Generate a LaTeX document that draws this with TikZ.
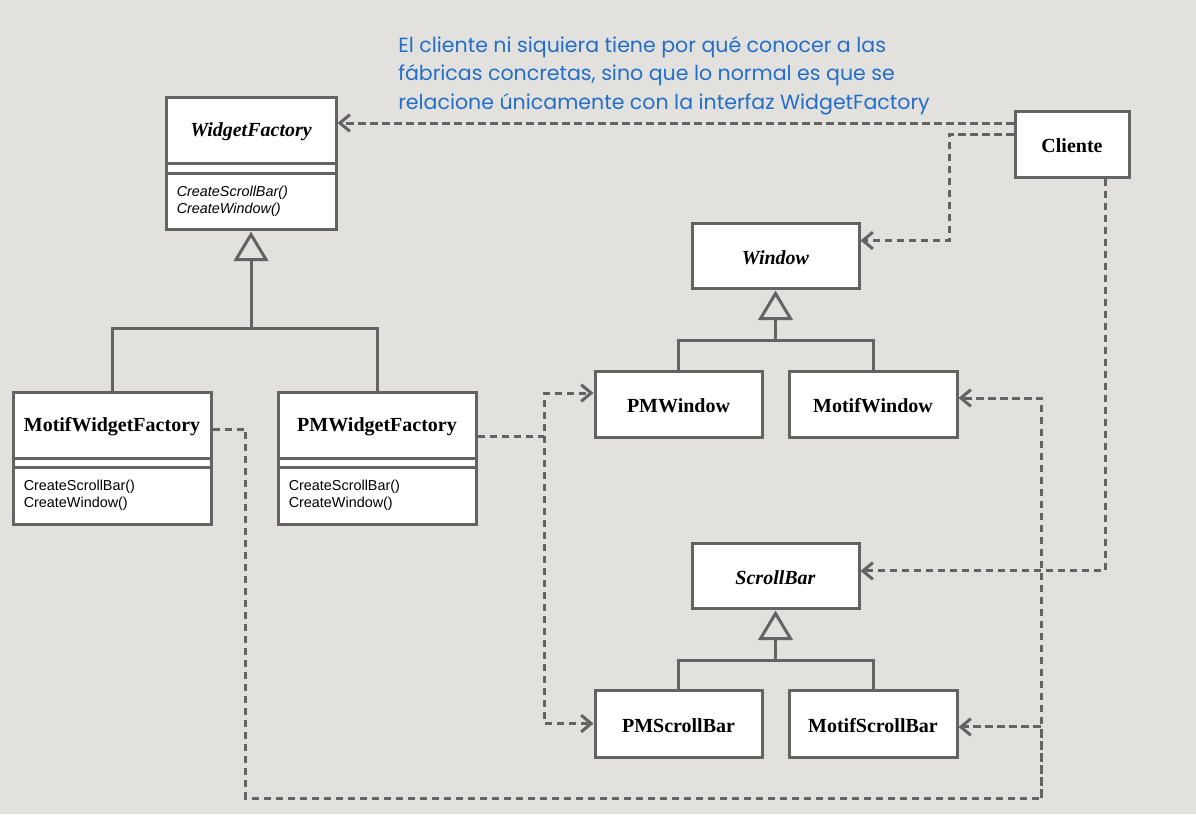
\documentclass[tikz,border=0pt]{standalone}
\usepackage{fontspec}
\setmainfont{Liberation Serif}
\setsansfont{Liberation Sans}
\newfontfamily\handfont{Poppins}
\usetikzlibrary{fit,arrows.meta}
\definecolor{bgc}{RGB}{226,225,221}
\definecolor{linec}{RGB}{99,99,99}
\definecolor{notec}{RGB}{35,110,200}
\begin{document}
\begin{tikzpicture}[x=0.75pt,y=-0.75pt,
  box/.style={draw=linec, line width=2.25pt, fill=white, inner sep=0pt},
  cname/.style={font=\fontsize{15}{18}\selectfont\bfseries, inner sep=0pt, yshift=-1.5pt},
  aname/.style={font=\fontsize{15}{18}\selectfont\bfseries\itshape, inner sep=0pt, yshift=-1.5pt},
  ops/.style={font=\sffamily\fontsize{10.8}{12.9}\selectfont, align=left, anchor=west, inner sep=0pt},
  solidline/.style={draw=linec, line width=2.25pt},
  dep/.style={draw=linec, line width=2.25pt, dash pattern=on 5.5pt off 3.5pt, -{Straight Barb[length=7.5pt,width=12.5pt]}},
  note/.style={font=\handfont\fontsize{15.4}{21.5}\selectfont, text=notec, align=left, anchor=north west, inner sep=0pt}
]
\useasboundingbox (0,0) rectangle (1196,814);
\fill[bgc] (0,0) rectangle (1196,814);

% WidgetFactory
\node[box, fit={(166,97) (336,163)}, label={[aname]center:WidgetFactory}] (wft) {};
\node[box, fit={(166,163) (336,173)}] (wfa) {};
\node[box, fit={(166,173) (336,229)}] (wfo) {};
\node[ops, font=\sffamily\itshape\fontsize{10.8}{12.9}\selectfont] (wfot) at ([xshift=9pt]wfo.west) {CreateScrollBar()\\CreateWindow()};

% MotifWidgetFactory
\node[box, fit={(13,392) (211,458)}, label={[cname]center:MotifWidgetFactory}] (mwft) {};
\node[box, fit={(13,458) (211,467)}] (mwfa) {};
\node[box, fit={(13,467) (211,524)}] (mwfo) {};
\node[ops] (mwfot) at ([xshift=9pt]mwfo.west) {CreateScrollBar()\\CreateWindow()};

% PMWidgetFactory
\node[box, fit={(278,392) (476,458)}, label={[cname]center:PMWidgetFactory}] (pwft) {};
\node[box, fit={(278,458) (476,467)}] (pwfa) {};
\node[box, fit={(278,467) (476,524)}] (pwfo) {};
\node[ops] (pwfot) at ([xshift=9pt]pwfo.west) {CreateScrollBar()\\CreateWindow()};

% Cliente
\node[box, fit={(1015,111) (1129,177)}, label={[cname]center:Cliente}] (cli) {};

% Window family
\node[box, fit={(692,223) (859,288)}, label={[aname]center:Window}] (win) {};
\node[box, fit={(595,371) (762,437)}, label={[cname]center:PMWindow}] (pmw) {};
\node[box, fit={(789,371) (957,437)}, label={[cname]center:MotifWindow}] (mw) {};

% ScrollBar family
\node[box, fit={(692,543) (859,608)}, label={[aname]center:ScrollBar}] (sb) {};
\node[box, fit={(595,690) (762,757)}, label={[cname]center:PMScrollBar}] (pmsb) {};
\node[box, fit={(789,690) (957,757)}, label={[cname]center:MotifScrollBar}] (msb) {};

% Note
\node[note] (txt) at (398,36) {El cliente ni siquiera tiene por qué conocer a las\\fábricas concretas, sino que lo normal es que se\\relacione únicamente con la interfaz WidgetFactory};

% Generalizations
\coordinate (wj) at (251,328);
\draw[solidline] (wfo.south) ++(0,4) -- ++(-15,25) -- ++(30,0) -- cycle;
\draw[solidline] (wfo.south) ++(0,29) -- (wj);
\draw[solidline] (mwft.north) |- (wj) -| (pwft.north);

\coordinate (wwj) at (775.5,340);
\draw[solidline] (win.south) ++(0,4) -- ++(-15,25) -- ++(30,0) -- cycle;
\draw[solidline] (win.south) ++(0,29) -- (wwj);
\draw[solidline] (pmw.north) |- (wwj) -| (mw.north);

\coordinate (sj) at (775.5,660);
\draw[solidline] (sb.south) ++(0,4) -- ++(-15,25) -- ++(30,0) -- cycle;
\draw[solidline] (sb.south) ++(0,29) -- (sj);
\draw[solidline] (pmsb.north) |- (sj) -| (msb.north);

% Dependencies from Cliente
\coordinate (a1) at ([yshift=5.25pt]wft.east);
\draw[dep] (cli.west |- a1) -- (a1);
\coordinate (a2) at ([yshift=7.5pt]cli.west);
\coordinate (a2e) at ([yshift=11.25pt]win.east);
\draw[dep] (a2) -- ++(-64,0) |- (a2e);
\coordinate (a3) at ([xshift=24.75pt]cli.south);
\coordinate (a3e) at ([yshift=3.4pt]sb.east);
\draw[dep] (a3) |- (a3e);

% Dependencies from PMWidgetFactory
\coordinate (b1) at ([yshift=-8.25pt]pwft.east);
\coordinate (b2) at ([yshift=8.25pt]pmw.west);
\draw[dep] (b1) -- ++(67,0) coordinate (bj) |- (b2);
\draw[dep] (bj) |- (pmsb.west);

% Dependencies from MotifWidgetFactory
\coordinate (c1) at ([yshift=-3pt]mwft.east);
\coordinate (c2) at ([yshift=4.5pt]mw.east);
\draw[dep] (c1) -- ++(33,0) -- ++(0,369) -- ++(796,0) coordinate (cj) |- (c2);
\draw[dep] (cj) |- ([yshift=-2.6pt]msb.east);
\end{tikzpicture}
\end{document}
